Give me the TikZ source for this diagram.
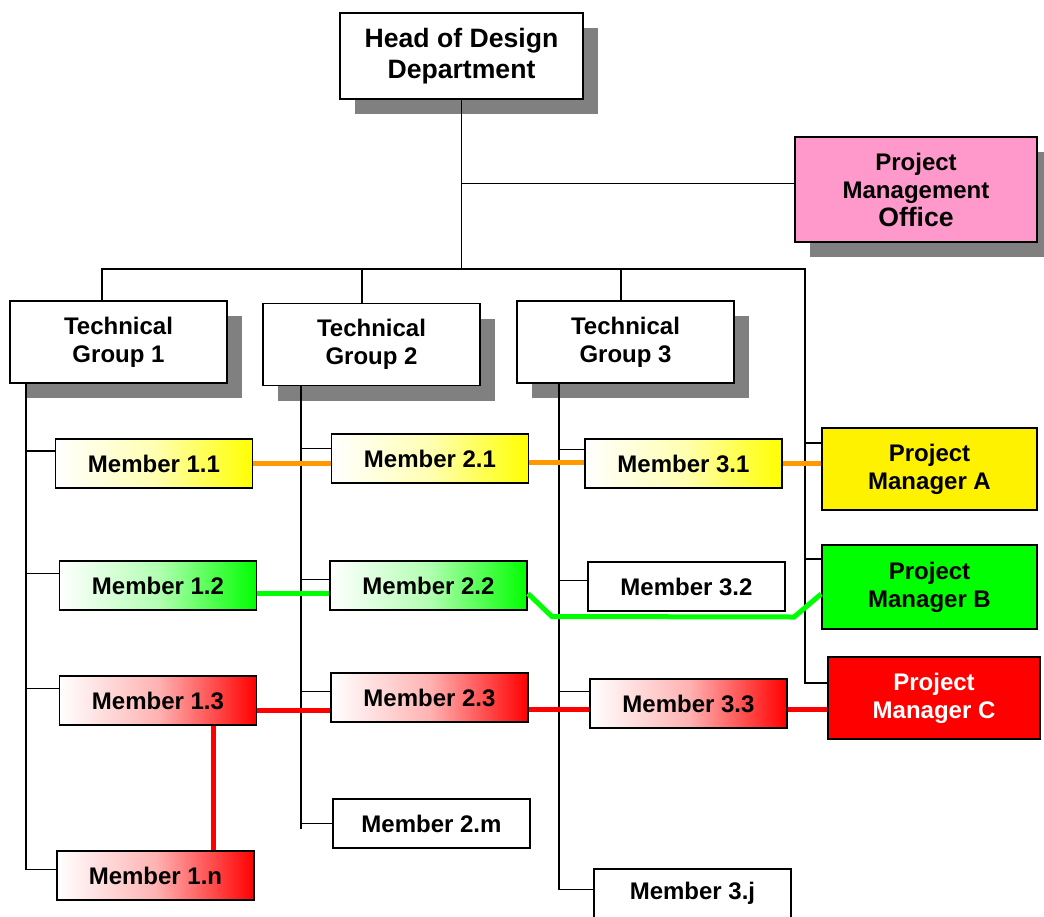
\documentclass[tikz,border=0pt]{standalone}
\usepackage{fontspec}
\setmainfont{Liberation Sans}
\usepackage{tikz}
\usetikzlibrary{shadows}
\definecolor{pmopink}{rgb}{1, 0.6, 0.8}
\definecolor{linkorange}{rgb}{1, 0.6, 0}
\definecolor{shadowgray}{rgb}{0.5, 0.5, 0.5}

\begin{document}
\begin{tikzpicture}[x=0.5pt, y=-0.5pt,
  box/.style={draw, line width=0.9pt, align=center, inner sep=0pt,
    font=\bfseries\fontsize{12}{14}\selectfont},
  shadowed/.style={box, fill=white, drop shadow={shadow xshift=7.5pt,
    shadow yshift=-7.5pt, fill=shadowgray, opacity=1}},
  group/.style={shadowed, minimum width=108.5pt, minimum height=41pt},
  member/.style={box, minimum width=98.5pt, minimum height=24.5pt},
  pm/.style={box, minimum width=107.5pt, minimum height=41pt},
  projA/.style={left color=white, right color=yellow, middle color=yellow!30},
  projB/.style={left color=white, right color=green, middle color=green!30},
  projC/.style={left color=white, right color=red, middle color=red!30},
  wire/.style={line width=0.85pt},
  link/.style={line width=2.5pt}]
\useasboundingbox (0,0) rectangle (1044,916);

\node [shadowed, minimum width=121.5pt, minimum height=43pt,
  font=\bfseries\fontsize{13.3}{15.5}\selectfont] (head) at (461.5,56) {Head of Design\\Department};
\node [shadowed, fill=pmopink, minimum width=121pt, minimum height=52.5pt] (pmo) at (916,189.5)
  {Project\\Management\\{\fontsize{13.3}{14}\selectfont Office}};

\node [group] (tg1) at (118.5,342) {Technical\\Group 1};
\node [group] (tg2) at (371.5,344.5) {Technical\\Group 2};
\node [group] (tg3) at (625.5,342) {Technical\\Group 3};

\node [member, projA] (m11) at (154,463.5) {Member 1.1};
\node [member, projB] (m12) at (158,585.5) {Member 1.2};
\node [member, projC] (m13) at (158,700.5) {Member 1.3};
\node [member, projC] (m1n) at (155.5,875.5) {Member 1.n};
\node [member, projA] (m21) at (430,458.5) {Member 2.1};
\node [member, projB] (m22) at (428.5,585.5) {Member 2.2};
\node [member, projC] (m23) at (429.5,697.5) {Member 2.3};
\node [member] (m2m) at (431.5,823.5) {Member 2.m};
\node [member, projA] (m31) at (683.5,463.5) {Member 3.1};
\node [member] (m32) at (686.5,586.5) {Member 3.2};
\node [member, projC] (m33) at (688.5,703.5) {Member 3.3};
\node [member] (m3j) at (692.5,893.5) {Member 3.j};

\node [pm, fill=yellow] (pma) at (929.5,469) {Project\\Manager A};
\node [pm, fill=green, minimum height=42pt] (pmb) at (929.5,587) {Project\\Manager B};
\node [pm, fill=red, text=white, minimum width=106pt] (pmc) at (934,698) {Project\\Manager C};

% bus and spines
\coordinate (d1) at (102,269);
\coordinate (d2) at (362,269);
\coordinate (d3) at (621,269);
\coordinate (rs) at (805,269);
\coordinate (s1) at (26,383);
\coordinate (s2) at (301,386);
\coordinate (s3) at (559,383);

\draw [wire] (head.south) -- (head.south |- d1);
\draw [wire] ([yshift=3pt]pmo.west) -- ([yshift=3pt]pmo.west -| head.south);
\draw [wire] (d1 |- tg1.north) -- (d1) -- (rs) -- ([yshift=7.5pt]pmc.west -| rs) -- ([yshift=7.5pt]pmc.west);
\draw [wire] (d2) -- (d2 |- tg2.north);
\draw [wire] (d3) -- (d3 |- tg3.north);
\draw [wire] ([yshift=13pt]pma.west) -- ([yshift=13pt]pma.west -| rs);
\draw [wire] ([yshift=14pt]pmb.west) -- ([yshift=14pt]pmb.west -| rs);

\draw [wire] (s1) |- ([yshift=3pt]m1n.west);
\draw [wire] ([yshift=6.25pt]m11.west) -- ([yshift=6.25pt]m11.west -| s1);
\draw [wire] ([yshift=6pt]m12.west) -- ([yshift=6pt]m12.west -| s1);
\draw [wire] ([yshift=6pt]m13.west) -- ([yshift=6pt]m13.west -| s1);

\draw [wire] (s2) -- ([yshift=-2.5pt]m2m.west -| s2);
\draw [wire] ([yshift=5pt]m21.west) -- ([yshift=5pt]m21.west -| s2);
\draw [wire] ([yshift=3pt]m22.west) -- ([yshift=3pt]m22.west -| s2);
\draw [wire] ([yshift=3pt]m23.west) -- ([yshift=3pt]m23.west -| s2);
\draw [wire] (m2m.west) -- (m2m.west -| s2);

\draw [wire] (s3) |- ([yshift=2pt]m3j.west);
\draw [wire] ([yshift=7pt]m31.west) -- ([yshift=7pt]m31.west -| s3);
\draw [wire] ([yshift=3pt]m32.west) -- ([yshift=3pt]m32.west -| s3);
\draw [wire] ([yshift=6pt]m33.west) -- ([yshift=6pt]m33.west -| s3);

% project links
\draw [link, linkorange] (m11.east) -- (m11.east -| m21.west);
\draw [link, linkorange] ([yshift=-2pt]m21.east) -- ([yshift=-2pt]m21.east -| m31.west);
\draw [link, linkorange] (m31.east) -- (m31.east -| pma.west);

\path ([yshift=-3.5pt]pmb.west) ++(-27,23) coordinate (gb);
\draw [link, green] ([yshift=-4pt]m12.east) -- ([yshift=-4pt]m12.east -| m22.west);
\draw [link, green] ([yshift=-4pt]m22.east) -- ++(24,23) -- (gb) -- ([yshift=-3.5pt]pmb.west);

\draw [link, red] ([yshift=-5pt]m13.east) -- ([yshift=-5pt]m13.east -| m23.west);
\draw [link, red] ([yshift=-6pt]m23.east) -- ([yshift=-6pt]m23.east -| m33.west);
\draw [link, red] ([yshift=-3pt]m33.east) -- ([yshift=-3pt]m33.east -| pmc.west);
\draw [link, red] ([xshift=27.5pt]m13.south) -- ([xshift=27.5pt]m13.south |- m1n.north);
\end{tikzpicture}
\end{document}
